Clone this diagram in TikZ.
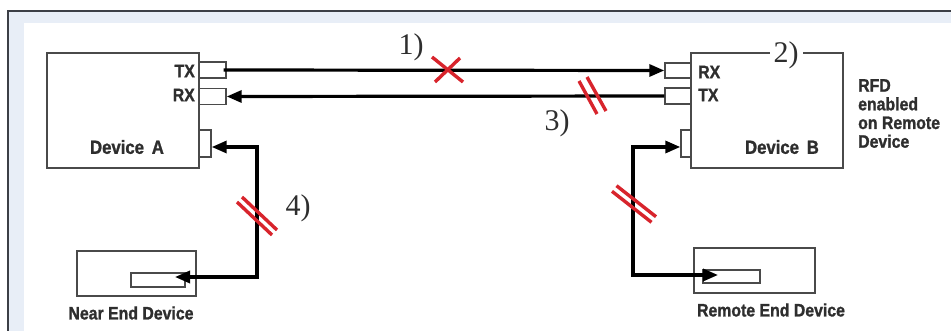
\documentclass[tikz,border=0pt]{standalone}
\usepackage{fontspec}
\setmainfont{Liberation Serif}
\newfontfamily\labfont{Liberation Sans}[FakeStretch=0.88,FakeBold=1.2]
\usetikzlibrary{arrows.meta}
\definecolor{markred}{HTML}{D8242C}
\definecolor{band}{HTML}{E8EEF7}
\definecolor{frameline}{HTML}{3C3F46}
\definecolor{boxline}{HTML}{4A4A4A}
\definecolor{txt}{HTML}{2E2E2E}
\begin{document}
\begin{tikzpicture}[x=1pt,y=-1pt,
  box/.style={draw=boxline,line width=1.4pt,fill=white,inner sep=0pt},
  lab/.style={font=\labfont\bfseries\fontsize{18}{18.7}\selectfont,text=txt,inner sep=0pt},
  biglab/.style={font=\labfont\bfseries\fontsize{19}{20}\selectfont,text=txt,inner sep=0pt},
  num/.style={font=\fontsize{30}{30}\selectfont,text=txt,inner sep=1pt},
  wire/.style={line width=3.2pt,black},
  tipend/.style={-{Triangle[length=15pt,width=12pt]}},
  redmark/.style={markred,line width=3.4pt}]
\useasboundingbox (0,0) rectangle (951,331);
% frame
\fill[band] (8,11) rectangle (951,331);
\fill[white] (24,23) rectangle (951,331);
\draw[frameline,line width=1.8pt] (8,331) -- (8,11) -- (951,11);

% devices
\node[box,minimum width=152pt,minimum height=115pt] (devA) at (123,110.5) {};
\node[box,minimum width=152pt,minimum height=115pt] (devB) at (767,110.5) {};
\node[box,minimum width=27pt,minimum height=16pt] (aTX) at (212.5,70) {};
\node[box,minimum width=27pt,minimum height=16pt] (aRX) at (212.5,96.5) {};
\node[box,minimum width=12pt,minimum height=27pt] (aLow) at (205,143.5) {};
\node[box,minimum width=26pt,minimum height=15pt] (bRX) at (678,70.5) {};
\node[box,minimum width=26pt,minimum height=16pt] (bTX) at (678,96) {};
\node[box,minimum width=10pt,minimum height=27pt] (bLow) at (686,143.5) {};
\node[box,minimum width=119pt,minimum height=45pt] (nearD) at (136.5,273.5) {};
\node[box,minimum width=54pt,minimum height=14pt] (nearP) at (158,280) {};
\node[box,minimum width=121pt,minimum height=45pt] (remD) at (754.5,270.5) {};
\node[box,minimum width=57pt,minimum height=13pt] (remP) at (731.5,276.5) {};

% labels
\node[lab,anchor=east] (lTXa) at (195,71) {TX};
\node[lab,anchor=east] (lRXa) at (195,95) {RX};
\node[lab,anchor=west] (lRXb) at (698,72) {RX};
\node[lab,anchor=west] (lTXb) at (698,95) {TX};
\node[biglab] (nA) at (127,147) {Device\, A};
\node[biglab] (nB) at (782,147) {Device\, B};
\node[lab] (nNear) at (131,313) {Near End Device};
\node[lab] (nRem) at (771,310) {Remote End Device};
\node[lab,align=left,anchor=north west] (rfd) at (858,79) {RFD\\enabled\\on Remote\\Device};

% connectors
\draw[wire,tipend] ([xshift=-3pt]aTX.east) -- (bRX.west);
\draw[wire,tipend] (bTX.west) -- (aRX.east);
\coordinate (cA1) at (257,147);
\coordinate (cA2) at (257,277);
\coordinate (tipA) at (175,277);
\draw[wire,{Triangle[length=15pt,width=12pt]}-{Triangle[length=15pt,width=12pt]}] (aLow.east |- cA1) -- (cA1) -- (cA2) -- (tipA);
\coordinate (cB1) at (633,147);
\coordinate (cB2) at (633,275);
\coordinate (tipB) at (718,275);
\draw[wire,{Triangle[length=15pt,width=12pt]}-{Triangle[length=15pt,width=12pt]}] (bLow.west |- cB1) -- (cB1) -- (cB2) -- (tipB);

% red marks
\draw[redmark] (432,57) -- (463,82);
\draw[redmark] (435,82) -- (460,58);
\draw[redmark] (587,77) -- (606,111);
\draw[redmark] (579,81) -- (597,114);
\draw[redmark] (242,197) -- (277,230);
\draw[redmark] (237,202) -- (272,235);
\draw[redmark] (616.5,185.7) -- (656,216.7);
\draw[redmark] (612,191.3) -- (651.5,222.3);

% numbers
\node[num] (n1) at (411,47) {1)};
\node[num,fill=white,inner xsep=4pt,inner ysep=0pt] (n2) at (786,55) {2)};
\node[num] (n3) at (557,123) {3)};
\node[num] (n4) at (298,208) {4)};
\end{tikzpicture}
\end{document}
